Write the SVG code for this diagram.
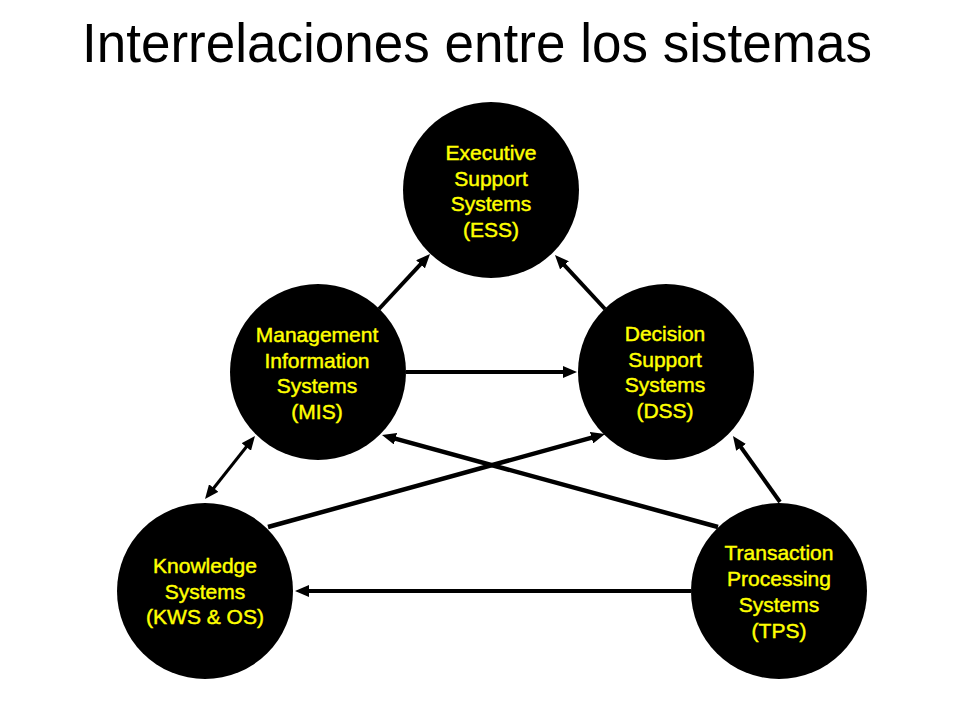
<svg xmlns="http://www.w3.org/2000/svg" width="960" height="720" viewBox="0 0 960 720">
<style>
.node{fill:#000}
.lbl{font-family:"Liberation Sans",Arial,sans-serif;font-size:21px;fill:#ffff00;stroke:#ffff00;stroke-width:0.45px;text-anchor:middle}
.title{font-family:"Liberation Sans",Arial,sans-serif;font-size:55px;fill:#000;text-anchor:middle}
.c{stroke:#000;fill:none;stroke-linecap:butt}
</style>
<defs>
<marker id="ah" markerUnits="userSpaceOnUse" markerWidth="14" markerHeight="12" refX="6" refY="6" orient="auto-start-reverse">
<path d="M0,0 L14,6 L0,12 z" fill="#000"/>
</marker>
</defs>
<rect width="960" height="720" fill="#fff"/>
<text class="title" x="477" y="62" textLength="790" lengthAdjust="spacingAndGlyphs">Interrelaciones entre los sistemas</text>
<g id="connectors">
<line class="c" stroke-width="4" x1="379" y1="309" x2="424.6" y2="259.9" marker-end="url(#ah)"/>
<line class="c" stroke-width="4" x1="605" y1="309" x2="560.4" y2="260.9" marker-end="url(#ah)"/>
<line class="c" stroke-width="4" x1="406" y1="372" x2="569" y2="372" marker-end="url(#ah)"/>
<line class="c" stroke-width="3" x1="210" y1="492.7" x2="250" y2="442.3" marker-start="url(#ah)" marker-end="url(#ah)"/>
<line class="c" stroke-width="4.5" x1="268" y1="527" x2="597.3" y2="436.1" marker-end="url(#ah)"/>
<line class="c" stroke-width="4.5" x1="718" y1="527" x2="389.7" y2="437.1" marker-end="url(#ah)"/>
<line class="c" stroke-width="4" x1="780" y1="502" x2="737.6" y2="442.5" marker-end="url(#ah)"/>
<line class="c" stroke-width="4" x1="691" y1="591" x2="303" y2="591" marker-end="url(#ah)"/>
</g>
<g id="ess">
<circle class="node" cx="491" cy="190" r="88"/>
<text class="lbl" x="491" y="160">Executive</text>
<text class="lbl" x="491" y="186">Support</text>
<text class="lbl" x="491" y="211">Systems</text>
<text class="lbl" x="491" y="237">(ESS)</text>
</g>
<g id="mis">
<circle class="node" cx="318" cy="372" r="88"/>
<text class="lbl" x="317" y="342">Management</text>
<text class="lbl" x="317" y="368">Information</text>
<text class="lbl" x="317" y="393">Systems</text>
<text class="lbl" x="317" y="419">(MIS)</text>
</g>
<g id="dss">
<circle class="node" cx="666" cy="372" r="88"/>
<text class="lbl" x="665" y="341">Decision</text>
<text class="lbl" x="665" y="367">Support</text>
<text class="lbl" x="665" y="392">Systems</text>
<text class="lbl" x="665" y="418">(DSS)</text>
</g>
<g id="kws">
<circle class="node" cx="205" cy="591" r="88"/>
<text class="lbl" x="205" y="573">Knowledge</text>
<text class="lbl" x="205" y="599">Systems</text>
<text class="lbl" x="205" y="624">(KWS &amp; OS)</text>
</g>
<g id="tps">
<circle class="node" cx="779" cy="591" r="88"/>
<text class="lbl" x="779" y="560">Transaction</text>
<text class="lbl" x="779" y="586">Processing</text>
<text class="lbl" x="779" y="612">Systems</text>
<text class="lbl" x="779" y="638">(TPS)</text>
</g>
</svg>
